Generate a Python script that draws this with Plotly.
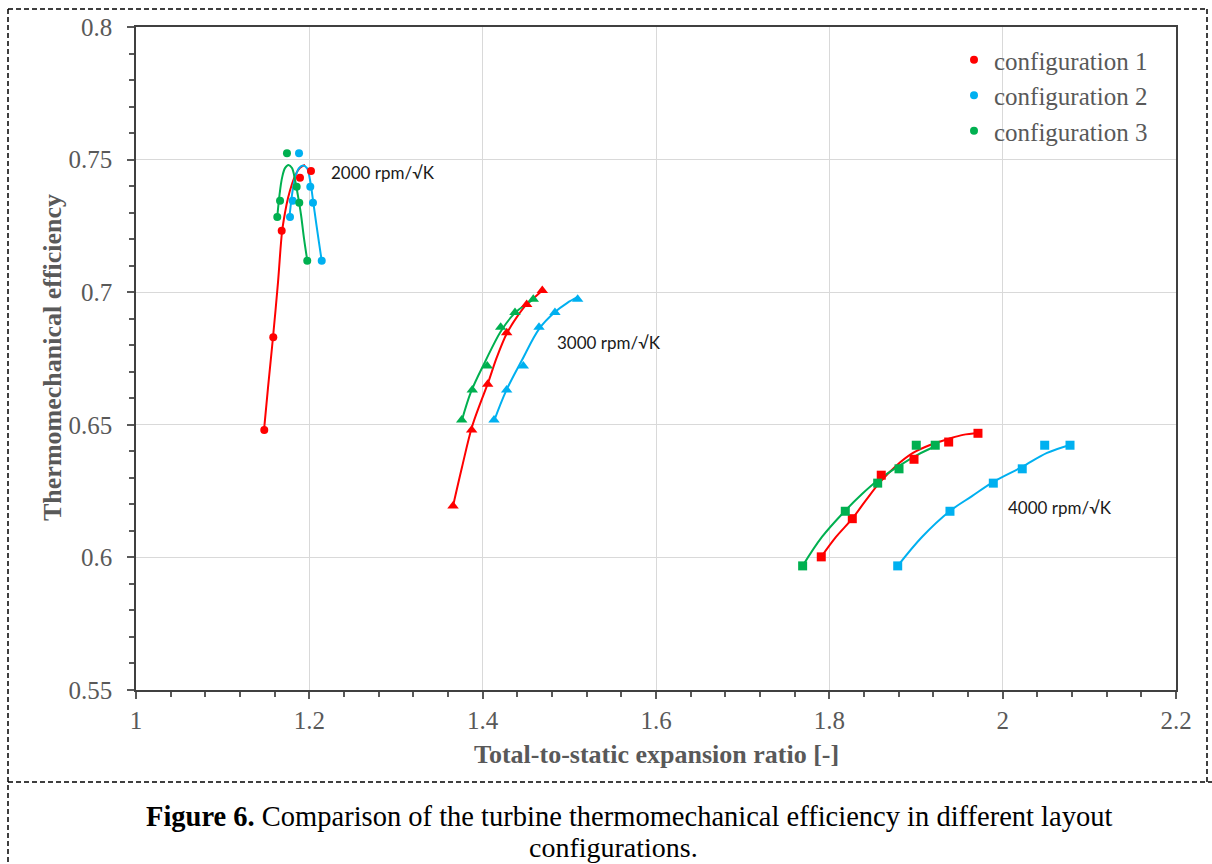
import plotly.graph_objects as go

# ---------------- data ----------------
RED = "#FF0000"
BLUE = "#00B0F0"
GREEN = "#00B050"

# 2000 rpm/sqrt(K) - measured points (circles)
c1_2000_x = [1.148, 1.1584, 1.1681, 1.1892, 1.2019]
c1_2000_y = [0.648, 0.683, 0.7232, 0.7432, 0.7457]
c2_2000_x = [1.1777, 1.1808, 1.1881, 1.2011, 1.2042, 1.2143]
c2_2000_y = [0.7284, 0.7345, 0.7524, 0.7398, 0.7337, 0.7119]
c3_2000_x = [1.163, 1.1662, 1.1742, 1.1854, 1.1884, 1.1976]
c3_2000_y = [0.7284, 0.7345, 0.7524, 0.7398, 0.7337, 0.7119]

# 3000 rpm/sqrt(K) - measured points (triangles)
c1_3000_x = [1.3658, 1.3873, 1.4058, 1.4277, 1.4508, 1.4688]
c1_3000_y = [0.6194, 0.648, 0.6653, 0.6847, 0.6954, 0.7006]
c2_3000_x = [1.4131, 1.4277, 1.4469, 1.465, 1.4834, 1.5096]
c2_3000_y = [0.6518, 0.6631, 0.6722, 0.6868, 0.6923, 0.6973]
c3_3000_x = [1.3758, 1.388, 1.4053, 1.4208, 1.4373, 1.4584]
c3_3000_y = [0.6518, 0.6631, 0.6722, 0.6868, 0.6923, 0.6973]

# 4000 rpm/sqrt(K) - measured points (squares)
c1_4000_x = [1.7907, 1.8265, 1.8599, 1.8977, 1.9377, 1.9715]
c1_4000_y = [0.6002, 0.6146, 0.631, 0.637, 0.6435, 0.6468]
c2_4000_x = [1.8789, 1.9392, 1.9892, 2.0226, 2.0485, 2.0777]
c2_4000_y = [0.5968, 0.6174, 0.628, 0.6334, 0.6423, 0.6423]
c3_4000_x = [1.7692, 1.8184, 1.8558, 1.8804, 1.9003, 1.9222]
c3_4000_y = [0.5968, 0.6174, 0.628, 0.6334, 0.6423, 0.6423]

# trend lines
t1_2000_x = [1.1477, 1.1523, 1.1581, 1.1638, 1.1685, 1.1719, 1.1754, 1.18, 1.1846, 1.1892, 1.195]
t1_2000_y = [0.648, 0.6639, 0.6831, 0.7035, 0.7227, 0.7299, 0.7355, 0.7408, 0.7446, 0.7469, 0.748]
t2_2000_x = [1.1771, 1.18, 1.1835, 1.1881, 1.1927, 1.1973, 1.2008, 1.2042, 1.2077, 1.2112, 1.2143]
t2_2000_y = [0.7284, 0.7367, 0.7431, 0.7468, 0.7478, 0.7468, 0.7423, 0.7348, 0.7265, 0.7186, 0.7118]
t3_2000_x = [1.163, 1.1656, 1.1685, 1.1719, 1.176, 1.18, 1.1835, 1.1869, 1.1904, 1.1938, 1.1977]
t3_2000_y = [0.7284, 0.7367, 0.7431, 0.7468, 0.748, 0.7468, 0.7423, 0.7363, 0.7292, 0.7204, 0.7118]

t1_3000_x = [1.3658, 1.3762, 1.3873, 1.3969, 1.4062, 1.4165, 1.4281, 1.4396, 1.4512, 1.4604, 1.4685]
t1_3000_y = [0.6194, 0.6341, 0.6488, 0.6578, 0.6658, 0.6756, 0.6846, 0.6907, 0.6956, 0.6982, 0.7005]
t2_3000_x = [1.4131, 1.4269, 1.4454, 1.465, 1.4834, 1.4973, 1.51]
t2_3000_y = [0.6514, 0.6627, 0.6744, 0.6861, 0.6925, 0.6959, 0.6982]
t3_3000_x = [1.3758, 1.3865, 1.4027, 1.4212, 1.4373, 1.4488, 1.4592]
t3_3000_y = [0.6514, 0.6624, 0.6737, 0.6854, 0.6922, 0.6952, 0.6974]

t1_4000_x = [1.7907, 1.8077, 1.8262, 1.8423, 1.8585, 1.8769, 1.8965, 1.9162, 1.9369, 1.9542, 1.9715]
t1_4000_y = [0.6002, 0.6077, 0.6145, 0.6216, 0.6284, 0.6345, 0.6394, 0.6424, 0.6446, 0.6462, 0.6469]
t2_4000_x = [1.8789, 1.9069, 1.9392, 1.9646, 1.9888, 2.0223, 2.0512, 2.0777]
t2_4000_y = [0.5968, 0.6077, 0.6175, 0.6231, 0.6284, 0.6341, 0.6394, 0.6424]
t3_4000_x = [1.7692, 1.7915, 1.818, 1.8377, 1.855, 1.8804, 1.9012, 1.9231]
t3_4000_y = [0.5968, 0.6077, 0.6175, 0.6239, 0.6288, 0.6345, 0.6386, 0.642]

config_names = ["configuration 1", "configuration 2", "configuration 3"]
speed_labels = ["2000 rpm/√K", "3000 rpm/√K", "4000 rpm/√K"]
speed_label_x = [1.2225, 1.4835, 2.004]
speed_label_y = [0.7453, 0.6812, 0.619]

x_title = "Total-to-static expansion ratio [-]"
y_title = "Thermomechanical efficiency"
caption_1 = "<b>Figure 6.</b> Comparison of the turbine thermomechanical efficiency in different layout"
caption_2 = "configurations."

# ---------------- figure ----------------
W, H = 1212, 864
ML, MR, MT, MB = 136, 36, 27, 174
PW, PH = W - ML - MR, H - MT - MB


def px(xp):
    return (xp - ML) / PW


def py(yp):
    return (H - MB - yp) / PH


fig = go.Figure()
colors = [RED, BLUE, GREEN]

pts_2000 = [(c1_2000_x, c1_2000_y), (c2_2000_x, c2_2000_y), (c3_2000_x, c3_2000_y)]
pts_3000 = [(c1_3000_x, c1_3000_y), (c2_3000_x, c2_3000_y), (c3_3000_x, c3_3000_y)]
pts_4000 = [(c1_4000_x, c1_4000_y), (c2_4000_x, c2_4000_y), (c3_4000_x, c3_4000_y)]
tr_2000 = [(t1_2000_x, t1_2000_y), (t2_2000_x, t2_2000_y), (t3_2000_x, t3_2000_y)]
tr_3000 = [(t1_3000_x, t1_3000_y), (t2_3000_x, t2_3000_y), (t3_3000_x, t3_3000_y)]
tr_4000 = [(t1_4000_x, t1_4000_y), (t2_4000_x, t2_4000_y), (t3_4000_x, t3_4000_y)]

for i in range(3):
    for (tx, ty) in (tr_2000[i], tr_3000[i], tr_4000[i]):
        fig.add_trace(go.Scatter(x=tx, y=ty, mode="lines", line=dict(color=colors[i], width=2, shape="spline", smoothing=1.0),
                                 showlegend=False, legendgroup=f"g{i}", hoverinfo="skip"))

for i in range(3):
    fig.add_trace(go.Scatter(x=pts_2000[i][0], y=pts_2000[i][1], mode="markers", name=config_names[i],
                             marker=dict(color=colors[i], size=8, symbol="circle"),
                             legendgroup=f"g{i}", showlegend=True))
    fig.add_trace(go.Scatter(x=pts_3000[i][0], y=pts_3000[i][1], mode="markers",
                             marker=dict(color=colors[i], size=10, symbol="triangle-up"),
                             legendgroup=f"g{i}", showlegend=False))
    fig.add_trace(go.Scatter(x=pts_4000[i][0], y=pts_4000[i][1], mode="markers",
                             marker=dict(color=colors[i], size=9, symbol="square"),
                             legendgroup=f"g{i}", showlegend=False))

annotations = []
for lab, lx, ly in zip(speed_labels, speed_label_x, speed_label_y):
    annotations.append(dict(x=lx, y=ly, xref="x", yref="y", text=lab, showarrow=False, xanchor="left",
                            yanchor="middle", font=dict(family="Lato, Carlito, sans-serif", size=17, color="#1a1a1a")))

serif = "Liberation Serif, Times New Roman, serif"
annotations.append(dict(x=0.5, y=py(754), xref="paper", yref="paper", text=f"<b>{x_title}</b>", showarrow=False,
                        xanchor="center", yanchor="middle",
                        font=dict(family=serif, size=26, color="#595959")))
annotations.append(dict(x=px(52), y=py(358), xref="paper", yref="paper", text=f"<b>{y_title}</b>", showarrow=False,
                        xanchor="center", yanchor="middle", textangle=-90,
                        font=dict(family=serif, size=26, color="#595959")))
annotations.append(dict(x=px(629), y=py(816), xref="paper", yref="paper", text=caption_1, showarrow=False,
                        xanchor="center", yanchor="middle",
                        font=dict(family=serif, size=28.5, color="#000000")))
annotations.append(dict(x=px(613), y=py(847), xref="paper", yref="paper", text=caption_2, showarrow=False,
                        xanchor="center", yanchor="middle",
                        font=dict(family=serif, size=28, color="#000000")))

dash_line = dict(color="#000000", width=1.5, dash="5px,3px")
shapes = [
    dict(type="line", xref="paper", yref="paper", x0=px(8), x1=px(1207), y0=py(9), y1=py(9), line=dash_line),
    dict(type="line", xref="paper", yref="paper", x0=px(1207), x1=px(1207), y0=py(9), y1=py(782), line=dash_line),
    dict(type="line", xref="paper", yref="paper", x0=px(8), x1=px(1212), y0=py(782), y1=py(782), line=dash_line),
    dict(type="line", xref="paper", yref="paper", x0=px(8), x1=px(8), y0=py(9), y1=py(864), line=dash_line),
]

tick_font = dict(family=serif, size=25, color="#595959")

fig.update_layout(
    width=W, height=H,
    margin=dict(l=ML, r=MR, t=MT, b=MB, pad=0),
    paper_bgcolor="white", plot_bgcolor="white",
    annotations=annotations, shapes=shapes,
    legend=dict(x=px(954), y=py(37), xanchor="left", yanchor="top", bgcolor="rgba(0,0,0,0)",
                font=dict(family=serif, size=25, color="#595959"),
                tracegroupgap=0, itemsizing="trace"),
    xaxis=dict(range=[1, 2.2], tick0=1, dtick=0.2, ticks="outside", ticklen=7, tickwidth=1.5, tickcolor="#595959",
               showgrid=True, gridcolor="#d9d9d9", gridwidth=1, showline=True, linecolor="#404040", linewidth=1.5,
               mirror=True, zeroline=False, tickfont=tick_font, ticklabelstandoff=0,
               minor=dict(dtick=0.04, ticks="outside", ticklen=5, tickcolor="#595959", showgrid=False)),
    yaxis=dict(range=[0.55, 0.8], tick0=0.55, dtick=0.05, ticks="outside", ticklen=7, tickwidth=1.5, tickcolor="#595959",
               showgrid=True, gridcolor="#d9d9d9", gridwidth=1, showline=True, linecolor="#404040", linewidth=1.5,
               mirror=True, zeroline=False, tickfont=tick_font, ticklabelstandoff=10,
               minor=dict(dtick=0.01, ticks="outside", ticklen=5, tickcolor="#595959", showgrid=False)),
)

fig.write_html("out.html")
